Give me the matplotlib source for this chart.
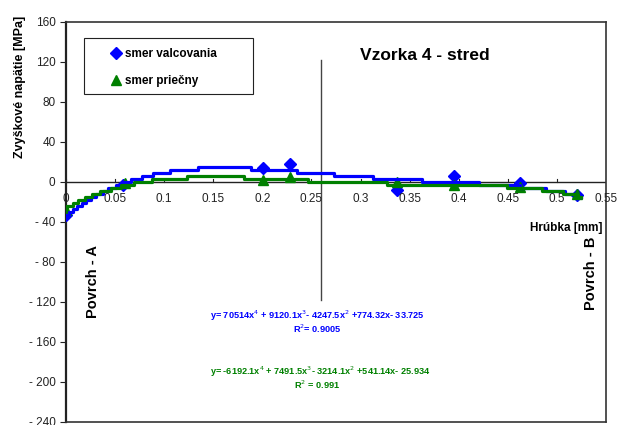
"""
Residual stress vs depth - Vzorka 4 (stred)
"""

import matplotlib
matplotlib.use('Agg')
import matplotlib.pyplot as plt
from matplotlib.patches import Rectangle
import numpy as np

plt.rcParams['font.family'] = ['Liberation Sans', 'DejaVu Sans']

# measured points
depth_valc = [0.0, 0.058, 0.201, 0.228, 0.337, 0.395, 0.462, 0.52]
stress_valc = [-33, -3, 14.5, 18, -7.5, 6, -1, -13]
depth_prie = [0.0, 0.06, 0.201, 0.228, 0.337, 0.395, 0.462, 0.52]
stress_prie = [-28, -1, 2, 5, 0, -3, -5, -12]

# 4th order trendline coefficients (highest power first)
coef_valc = [-7051.4, 9120.1, -4247.5, 774.32, -33.725]
coef_prie = [-6192.1, 7491.5, -3214.1, 541.14, -25.934]

eq_valc = 'y= 70514x$^4$ + 9120.1x$^3$- 4247.5x$^2$ +774.32x- 33.725'
r2_valc = 'R$^2$= 0.9005'
eq_prie = 'y= -6192.1x$^4$ + 7491.5x$^3$- 3214.1x$^2$ +541.14x- 25.934'
r2_prie = 'R$^2$ = 0.991'

xticks = [0, 0.05, 0.1, 0.15, 0.2, 0.25, 0.3, 0.35, 0.4, 0.45, 0.5, 0.55]
yticks = [-240, -200, -160, -120, -80, -40, 0, 40, 80, 120, 160]

blue = '#0000ff'
green = '#008000'

fig = plt.figure(figsize=(6.27, 4.25), dpi=100)
ax = fig.add_axes([66 / 627, 3 / 425, 540 / 627, 400 / 425])

# trendlines (drawn stepped like the original low-res rendering)
xs = np.linspace(0, 0.525, 400)
yv = np.round(np.polyval(coef_valc, xs) / 3) * 3
yp = np.round(np.polyval(coef_prie, xs) / 3) * 3

ax.plot(depth_valc, stress_valc, 'D', color=blue, ms=6.5, ls='none',
        label='smer valcovania', zorder=3)
ax.plot(depth_prie, stress_prie, '^', color=green, ms=7, ls='none',
        label='smer priečny', zorder=3)
ax.plot(xs, yv, color=blue, lw=2.3, drawstyle='steps-mid', zorder=4)
ax.plot(xs, yp, color=green, lw=2.3, drawstyle='steps-mid', zorder=5)

ax.set_xlim(0, 0.55)
ax.set_ylim(-240, 160)
ax.set_xticks(xticks)
ax.set_yticks(yticks)
ax.set_yticklabels([('- %d' % -t if t < 0 else '%d' % t) for t in yticks], fontsize=8.5)

# x axis crosses at y = 0
ax.axhline(0, color='#222222', lw=1.0, zorder=2)
ax.tick_params(axis='x', bottom=False, labelbottom=False)
for t in xticks:
    ax.plot([t, t], [0, 3], color='#222222', lw=0.8, zorder=2)
    ax.text(t, -17, '%g' % t, ha='center', va='center', fontsize=8.5, color='#222222')
ax.tick_params(axis='y', direction='out', length=4, color='#222222', labelcolor='#222222')

ax.spines['left'].set_linewidth(1.6)
ax.spines['left'].set_color('#222222')
for s in ['top', 'right', 'bottom']:
    ax.spines[s].set_linewidth(1.2)
    ax.spines[s].set_color('#333333')

# vertical divider
ax.plot([0.26, 0.26], [-118, 122], color='#444444', lw=1.0, zorder=1)

ax.text(0.365, 126, 'Vzorka 4 - stred', ha='center', va='center', fontsize=12.5,
        weight='bold')
ax.text(0.027, -100, 'Povrch - A', rotation=90, ha='center', va='center',
        fontsize=10.5, weight='bold')
ax.text(0.535, -91, 'Povrch - B', rotation=90, ha='center', va='center',
        fontsize=10.5, weight='bold')
ax.text(0.546, -46, 'Hrúbka [mm]', ha='right', va='center', fontsize=8.5, weight='bold')

ax.text(0.256, -134, eq_valc, ha='center', va='center', fontsize=6.6, weight='bold', color=blue)
ax.text(0.256, -147, r2_valc, ha='center', va='center', fontsize=6.6, weight='bold', color=blue)
ax.text(0.259, -190, eq_prie, ha='center', va='center', fontsize=6.6, weight='bold', color=green)
ax.text(0.256, -203, r2_prie, ha='center', va='center', fontsize=6.6, weight='bold', color=green)

fig.text(20 / 627, 1 - 87 / 425, 'Zvyškové napätie [MPa]', rotation=90, ha='center',
         va='center', fontsize=9, weight='bold')

# legend box
ax.add_patch(Rectangle((0.033, 0.82), 0.313, 0.14, transform=ax.transAxes,
                       facecolor='white', edgecolor='#222222', lw=0.8, zorder=6))
leg = ax.legend(loc='upper left', bbox_to_anchor=(0.081, 0.935), frameon=False,
                labelspacing=1.25, handletextpad=0.3, handlelength=1.0,
                borderpad=0, borderaxespad=0, prop={'weight': 'bold', 'size': 8.5})
leg.set_zorder(7)

fig.savefig('out.png', dpi=100)
